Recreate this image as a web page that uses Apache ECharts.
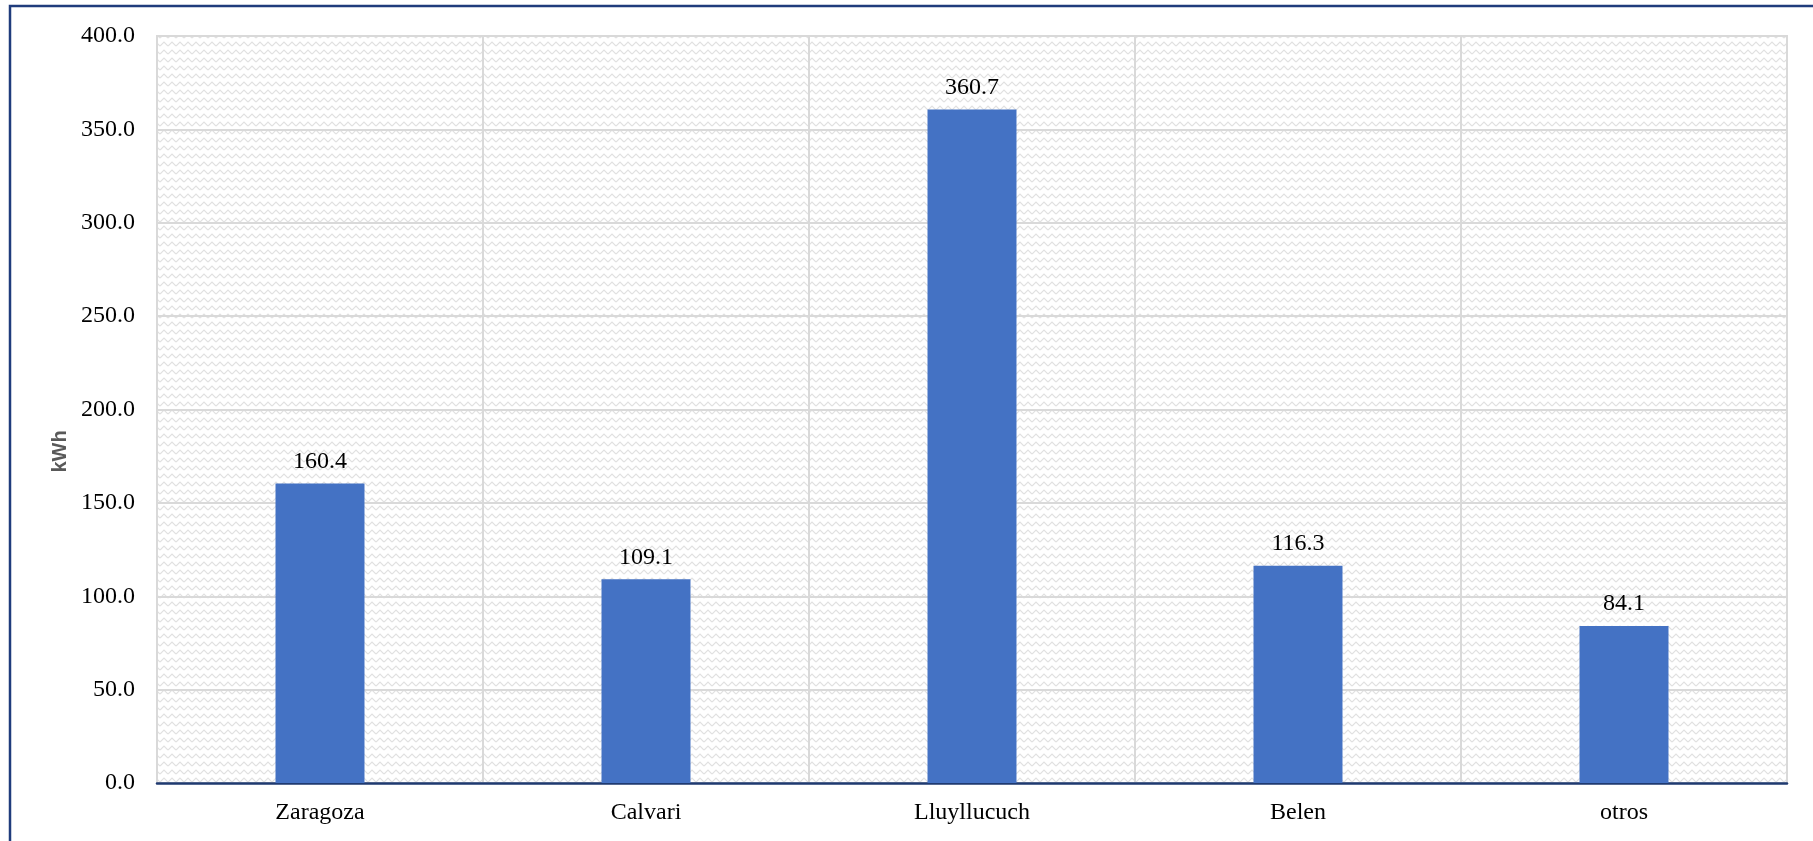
<!DOCTYPE html>
<html>
<head>
<meta charset="utf-8">
<script src="https://cdn.jsdelivr.net/npm/echarts@6/dist/echarts.min.js"></script>
<style>
html,body{margin:0;padding:0;background:#fff;}
#chart{width:1813px;height:841px;}
</style>
</head>
<body>
<div id="chart"></div>
<script>
var categories = ['Zaragoza', 'Calvari', 'Lluyllucuch', 'Belen', 'otros'];
var values = [160.4, 109.1, 360.7, 116.3, 84.1];
var yTicks = { min: 0, max: 400, interval: 50 };
var yAxisName = 'kWh';

// light zigzag texture for plot background
var pc = document.createElement('canvas');
pc.width = 8; pc.height = 8;
var g = pc.getContext('2d');
g.fillStyle = '#ffffff';
g.fillRect(0, 0, 8, 8);
g.strokeStyle = '#e1e1e1';
g.lineWidth = 1.2;
g.beginPath();
g.moveTo(0, 6); g.lineTo(4, 2); g.lineTo(8, 6);
g.stroke();

var chart = echarts.init(document.getElementById('chart'));
chart.setOption({
  animation: false,
  backgroundColor: '#ffffff',
  graphic: [{
    type: 'rect',
    shape: { x: 10, y: 6, width: 1900, height: 1000 },
    style: { fill: 'none', stroke: '#203c7c', lineWidth: 2.5 },
    silent: true
  }],
  grid: {
    left: 157, right: 26, top: 36, bottom: 58,
    show: true,
    backgroundColor: { image: pc, repeat: 'repeat' },
    borderColor: '#d9d9d9',
    borderWidth: 2
  },
  xAxis: {
    type: 'category',
    data: categories,
    axisLine: { show: true, lineStyle: { color: '#1f3a70', width: 2.5 } },
    axisTick: { show: false },
    axisLabel: { color: '#000', fontFamily: 'Liberation Serif', fontSize: 24, margin: 18 },
    splitLine: { show: true, lineStyle: { color: '#d9d9d9', width: 2 } }
  },
  yAxis: {
    type: 'value',
    min: yTicks.min, max: yTicks.max, interval: yTicks.interval,
    name: yAxisName,
    nameLocation: 'middle',
    nameGap: 86,
    nameTextStyle: {
      color: '#595959', fontFamily: 'Liberation Sans', fontWeight: 'bold', fontSize: 20,
      padding: [0, 84, 0, 0]
    },
    axisLine: { show: false },
    axisTick: { show: false },
    axisLabel: {
      color: '#000', fontFamily: 'Liberation Serif', fontSize: 24, margin: 22,
      formatter: function (v) { return v.toFixed(1); }
    },
    splitLine: { show: true, lineStyle: { color: '#d9d9d9', width: 2 } }
  },
  series: [{
    type: 'bar',
    data: values,
    barWidth: '27.3%',
    itemStyle: { color: '#4472c4' },
    label: {
      show: true, position: 'top', distance: 10,
      color: '#000', fontFamily: 'Liberation Serif', fontSize: 24,
      formatter: function (p) { return p.value.toFixed(1); }
    }
  }]
});
</script>
</body>
</html>
